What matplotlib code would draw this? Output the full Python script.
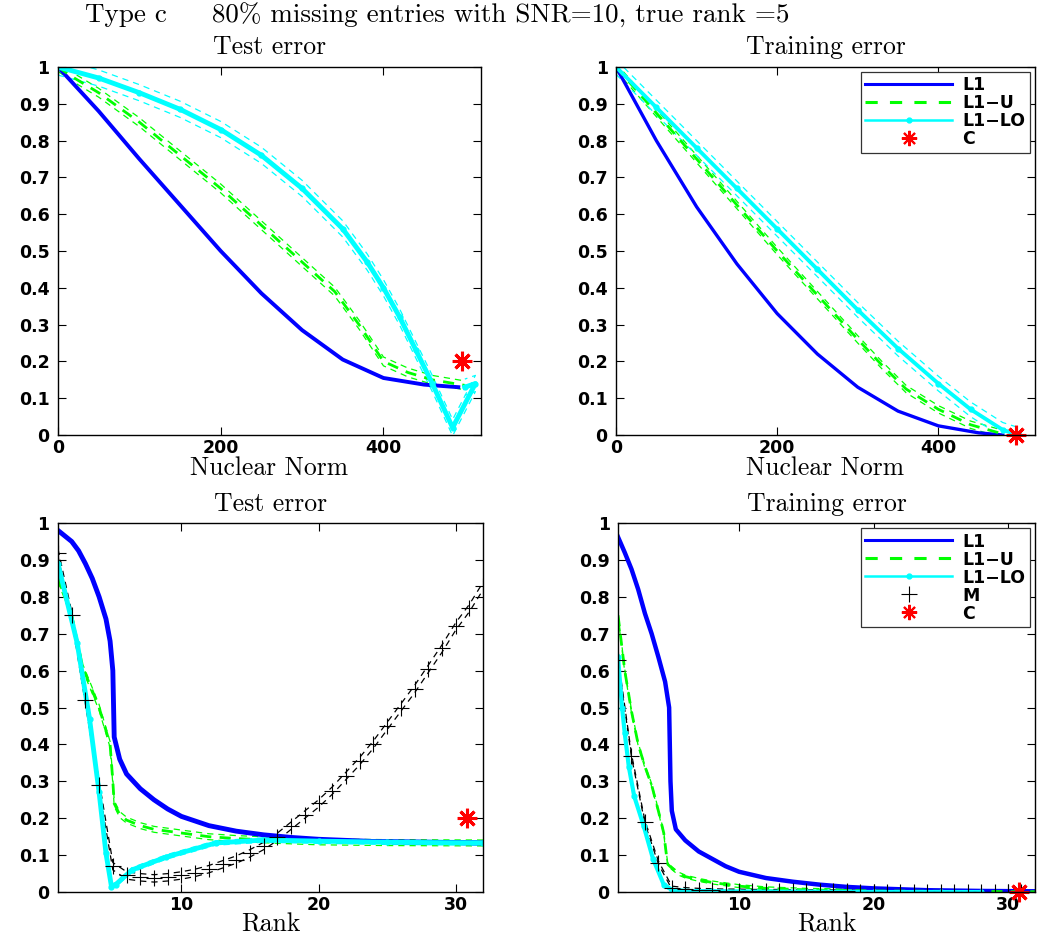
import numpy as np
import matplotlib.pyplot as plt
from matplotlib.lines import Line2D

# ---- top row: error against nuclear norm ----
l1_nn_x = [0, 50, 100, 150, 200, 250, 300, 350, 400, 450, 492]
l1_test_nn = [1.0, 0.88, 0.75, 0.625, 0.50, 0.385, 0.285, 0.205, 0.155, 0.137, 0.13]
u_nn_x = [0, 20, 50, 100, 150, 200, 250, 300, 340, 370, 400, 430, 460, 500]
u_test_nn = [1.0, 0.97, 0.93, 0.85, 0.76, 0.67, 0.57, 0.47, 0.39, 0.30, 0.20, 0.17, 0.15, 0.135]
lo_nn_x = [0, 50, 100, 150, 200, 250, 300, 350, 380, 400, 420, 440, 460, 485, 513, 500]
lo_test_nn = [1.0, 0.97, 0.93, 0.885, 0.83, 0.76, 0.67, 0.56, 0.47, 0.40, 0.32, 0.23, 0.14, 0.02, 0.14, 0.13]

l1_tr_x = [0, 50, 100, 150, 200, 250, 300, 350, 400, 450, 480]
l1_train_nn = [1.0, 0.80, 0.62, 0.465, 0.33, 0.22, 0.13, 0.065, 0.025, 0.006, 0.0]
u_tr_x = [0, 50, 100, 150, 200, 250, 300, 330, 360, 400, 440, 480]
u_train_nn = [1.0, 0.875, 0.75, 0.625, 0.50, 0.38, 0.26, 0.19, 0.125, 0.07, 0.028, 0.003]
lo_tr_x = [0, 50, 100, 150, 200, 250, 300, 350, 400, 440, 480, 500]
lo_train_nn = [1.0, 0.89, 0.78, 0.67, 0.56, 0.45, 0.34, 0.235, 0.14, 0.07, 0.014, 0.0]

c_nn = [497]
c_test_nn = [0.2]
c_train_nn = [0.0]

# ---- bottom row: error against rank ----
l1_rk_x = [1, 1.5, 2, 2.5, 3, 3.5, 4, 4.5, 4.8, 5.0, 5.1, 5.5, 6, 7, 8, 9, 10, 12, 14, 16, 18, 20, 24, 28, 32]
l1_test_rk = [0.98, 0.965, 0.95, 0.925, 0.89, 0.85, 0.80, 0.74, 0.68, 0.6, 0.42, 0.36, 0.32, 0.28, 0.25,
              0.225, 0.205, 0.18, 0.165, 0.155, 0.148, 0.143, 0.137, 0.135, 0.133]
u_rk_x = [1, 2, 2.8, 4, 4.8, 5, 5.1, 5.5, 6, 7, 8, 10, 12, 14, 17, 20, 25, 32]
u_test_rk = [0.85, 0.75, 0.61, 0.50, 0.40, 0.30, 0.24, 0.21, 0.195, 0.18, 0.17, 0.16, 0.15, 0.145,
             0.14, 0.136, 0.134, 0.133]
lo_rk_x = [1, 2.4, 3.3, 4.0, 4.5, 4.9, 5.2, 6.4, 8.9, 12.5, 16, 20, 25, 32]
lo_test_rk = [0.89, 0.675, 0.47, 0.27, 0.105, 0.015, 0.02, 0.06, 0.095, 0.133, 0.141, 0.138, 0.135, 0.133]
m_rk_x = list(range(1, 33))
m_test_rk = [0.92, 0.75, 0.52, 0.29, 0.07, 0.045, 0.04, 0.037, 0.04, 0.045, 0.052, 0.062, 0.075, 0.088,
             0.105, 0.125, 0.15, 0.18, 0.21, 0.24, 0.275, 0.315, 0.355, 0.40, 0.45, 0.50, 0.55, 0.605,
             0.66, 0.72, 0.77, 0.83]

l1_rk2_x = [1, 1.5, 2, 2.5, 3, 3.5, 4, 4.5, 4.8, 4.85, 4.9, 5.0, 5.3, 6, 7, 8, 9, 10, 12, 14, 16, 18,
            20, 24, 28, 32]
l1_train_rk = [0.962, 0.92, 0.875, 0.82, 0.755, 0.70, 0.637, 0.57, 0.5, 0.4, 0.3, 0.22, 0.17, 0.14,
               0.11, 0.09, 0.07, 0.055, 0.038, 0.028, 0.02, 0.014, 0.01, 0.005, 0.003, 0.002]
u_rk2_x = [1, 1.5, 2, 2.5, 3, 3.5, 4, 4.4, 4.6, 4.7, 5, 5.5, 6, 7, 8, 10, 12, 15, 20, 25, 32]
u_train_rk = [0.75, 0.60, 0.49, 0.40, 0.34, 0.29, 0.22, 0.16, 0.1, 0.075, 0.065, 0.05, 0.042, 0.033,
              0.026, 0.016, 0.01, 0.006, 0.003, 0.002, 0.001]
lo_rk2_x = [1, 1.3, 1.5, 1.8, 2.2, 2.9, 3.6, 4.4, 5, 6, 8, 10, 15, 20, 25, 28]
lo_train_rk = [0.637, 0.50, 0.43, 0.34, 0.26, 0.18, 0.09, 0.02, 0.006, 0.003, 0.002, 0.001, 0.001, 0, 0, 0]
m_train_rk = [0.63, 0.37, 0.19, 0.08, 0.012, 0.008, 0.006, 0.005, 0.004, 0.004, 0.003, 0.003, 0.003,
              0.002, 0.002, 0.002, 0.002, 0.002, 0.001, 0.001, 0.001, 0.001, 0.001, 0.001, 0.001,
              0.001, 0.001, 0.001, 0.001, 0.001, 0.001, 0.001]

c_rk = [30.8]
c_test_rk = [0.2]
c_train_rk = [0.0]

# half widths of the thin dashed bands around each curve
u_band = [0.012, 0.01, 0.008, 0.004]
lo_band = [0.022, 0.02, 0.006, 0.004]
m_band = [0.0, 0.0, 0.01, 0.004]

y_ticks = [0, 0.1, 0.2, 0.3, 0.4, 0.5, 0.6, 0.7, 0.8, 0.9, 1]
y_tick_labels = ['0', '0.1', '0.2', '0.3', '0.4', '0.5', '0.6', '0.7', '0.8', '0.9', '1']
nn_ticks = [0, 200, 400]
rk_ticks = [10, 20, 30]

BLUE, GREEN, CYAN = '#0000ff', '#00ff00', '#00ffff'
SERIF = 'cmr10'

fig = plt.figure(figsize=(10.5, 9.39), dpi=100)


def bands(ax, x, y, w, color):
    if w <= 0:
        return
    y = np.asarray(y, dtype=float)
    for s in (-w, w):
        ax.plot(x, y + s, color=color, lw=0.9, ls=(0, (5, 4)), zorder=2)


def style(ax, title, xlabel, xlim, xticks):
    ax.set_xlim(xlim)
    ax.set_ylim(0, 1)
    ax.set_xticks(xticks)
    ax.set_yticks(y_ticks)
    ax.set_yticklabels(y_tick_labels)
    ax.tick_params(direction='in', top=True, right=True, length=6, width=0.8, labelsize=12.5)
    ax.tick_params(axis='y', pad=6)
    ax.tick_params(axis='x', pad=3)
    for lab in ax.get_xticklabels() + ax.get_yticklabels():
        lab.set_fontweight('bold')
    for sp in ax.spines.values():
        sp.set_linewidth(1.0)
    ax.set_title(title, family=SERIF, fontsize=18.5, pad=9)
    ax.set_xlabel(xlabel, family=SERIF, fontsize=18.5, labelpad=-1)


def legend(ax, with_m):
    h = [Line2D([], [], color=BLUE, lw=2.2),
         Line2D([], [], color=GREEN, lw=2.2, ls=(0, (4, 4))),
         Line2D([], [], color=CYAN, lw=1.8, marker='.', ms=7)]
    labels = ['L1', 'L1\u2212U', 'L1\u2212LO']
    if with_m:
        h.append(Line2D([], [], color='k', ls='none', marker='+', ms=12, mew=0.8))
        labels.append('M')
    h.append(Line2D([], [], color='r', ls='none', marker=(8, 2, 0), ms=11, mew=1.5))
    labels.append('C')
    leg = ax.legend(h, labels, loc='upper right', fancybox=False, framealpha=1, edgecolor='#333333',
                    handlelength=5.0, handletextpad=0.6, borderpad=0.25, labelspacing=0.0,
                    borderaxespad=0.3, prop=dict(family='DejaVu Sans', weight='bold', size=12.5))
    leg.get_frame().set_linewidth(0.9)


# top left: test error vs nuclear norm
ax = fig.add_axes([0.0552, 0.5367, 0.403, 0.392])
bands(ax, u_nn_x, u_test_nn, u_band[0], GREEN)
bands(ax, lo_nn_x, lo_test_nn, lo_band[0], CYAN)
ax.plot(l1_nn_x, l1_test_nn, color=BLUE, lw=2.8)
ax.plot(u_nn_x, u_test_nn, color=GREEN, lw=2, ls=(0, (4, 3)))
ax.plot(lo_nn_x, lo_test_nn, color=CYAN, lw=3.5, marker='.', ms=7)
ax.plot(c_nn, c_test_nn, ls='none', marker=(8, 2, 0), color='r', ms=14, mew=2.2)
style(ax, 'Test error', 'Nuclear Norm', (0, 520), nn_ticks)

# top right: training error vs nuclear norm
ax = fig.add_axes([0.5867, 0.5367, 0.399, 0.392])
bands(ax, u_tr_x, u_train_nn, u_band[1], GREEN)
bands(ax, lo_tr_x, lo_train_nn, lo_band[1], CYAN)
ax.plot(l1_tr_x, l1_train_nn, color=BLUE, lw=2.4)
ax.plot(u_tr_x, u_train_nn, color=GREEN, lw=2, ls=(0, (4, 3)))
ax.plot(lo_tr_x, lo_train_nn, color=CYAN, lw=2.8, marker='.', ms=7)
ax.plot(c_nn, c_train_nn, ls='none', marker=(8, 2, 0), color='r', ms=14, mew=2.2, clip_on=False)
style(ax, 'Training error', 'Nuclear Norm', (0, 520), nn_ticks)
legend(ax, False)

# bottom left: test error vs rank
ax = fig.add_axes([0.0552, 0.050, 0.405, 0.393])
bands(ax, u_rk_x, u_test_rk, u_band[2], GREEN)
bands(ax, lo_rk_x, lo_test_rk, lo_band[2], CYAN)
bands(ax, m_rk_x, m_test_rk, m_band[2], 'k')
ax.plot(l1_rk_x, l1_test_rk, color=BLUE, lw=3.5)
ax.plot(u_rk_x, u_test_rk, color=GREEN, lw=2, ls=(0, (4, 3)))
ax.plot(lo_rk_x, lo_test_rk, color=CYAN, lw=3.5, marker='.', ms=7)
ax.plot(m_rk_x, m_test_rk, ls='none', marker='+', color='k', ms=12, mew=0.8)
ax.plot(c_rk, c_test_rk, ls='none', marker=(8, 2, 0), color='r', ms=14, mew=2.2)
style(ax, 'Test error', 'Rank', (1, 32), rk_ticks)

# bottom right: training error vs rank
ax = fig.add_axes([0.5886, 0.050, 0.397, 0.393])
bands(ax, u_rk2_x, u_train_rk, u_band[3], GREEN)
bands(ax, lo_rk2_x, lo_train_rk, lo_band[3], CYAN)
bands(ax, m_rk_x, m_train_rk, m_band[3], 'k')
ax.plot(l1_rk2_x, l1_train_rk, color=BLUE, lw=3.2)
ax.plot(u_rk2_x, u_train_rk, color=GREEN, lw=2, ls=(0, (4, 3)))
ax.plot(lo_rk2_x, lo_train_rk, color=CYAN, lw=3, marker='.', ms=7)
ax.plot(m_rk_x, m_train_rk, ls='none', marker='+', color='k', ms=12, mew=0.8)
ax.plot(c_rk, c_train_rk, ls='none', marker=(8, 2, 0), color='r', ms=14, mew=2.2, clip_on=False)
style(ax, 'Training error', 'Rank', (1, 32), rk_ticks)
legend(ax, True)

fig.text(0.416, 0.984, 'Type c     80% missing entries with SNR=10, true rank =5',
         family=SERIF, fontsize=19.5, ha='center', va='center')

fig.savefig('out.png', dpi=100)
